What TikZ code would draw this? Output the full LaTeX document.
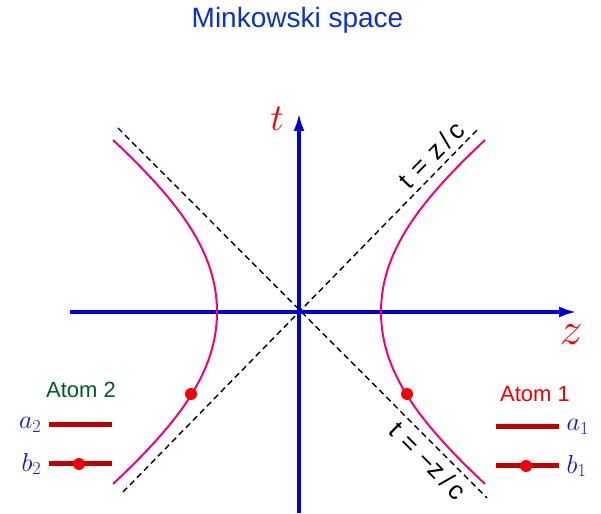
\RequirePackage{fix-cm}
\documentclass[tikz,border=0pt]{standalone}
\usepackage[no-math]{fontspec}
\setmainfont{Liberation Sans}
\usepackage{xcolor}
\definecolor{mink-title}{RGB}{10, 50, 200}
\definecolor{mink-axis}{RGB}{0, 0, 205}
\definecolor{mink-red}{RGB}{245, 0, 0}
\definecolor{mink-pink}{RGB}{240, 0, 130}
\definecolor{mink-level}{RGB}{190, 0, 0}
\definecolor{mink-green}{RGB}{0, 90, 40}
\definecolor{mink-label}{RGB}{20, 20, 210}
\usepackage{tikz}
\usetikzlibrary{positioning,arrows.meta}
\tikzset{
  % --- AXES ---
  axis/.style={
    draw=mink-axis,
    line width=3.5pt,
    -{Latex[length=18pt,width=11pt]}
  },
  axis-label/.style={
    text=mink-red,
    font=\fontsize{38}{42}\selectfont
  },
  % --- LIGHT CONE ---
  lightcone/.style={
    draw=black,
    line width=1.4pt,
    dash pattern=on 6pt off 4pt
  },
  cone-label/.style={
    font=\fontsize{26}{28}\selectfont,
    inner sep=5pt
  },
  % --- WORLD LINES ---
  worldline/.style={
    draw=mink-pink,
    line width=2pt
  },
  event/.style={
    circle,
    fill=mink-red,
    inner sep=0pt,
    minimum size=12pt
  },
  % --- ATOMS ---
  level/.style={
    fill=mink-level,
    inner sep=0pt,
    minimum width=63pt,
    minimum height=5pt
  },
  level-label/.style={
    text=mink-label,
    font=\fontsize{26}{28}\selectfont
  },
  atom-title/.style={
    font=\fontsize{22}{24}\selectfont
  },
}

\begin{document}
\begin{tikzpicture}[x=1pt, y=1pt]
  \useasboundingbox (0,0) rectangle (601,513);

  % --- title
  \node[text=mink-title, font=\fontsize{28}{32}\selectfont] (title) at (297.5, 493) {Minkowski space};

  % --- light cone
  \coordinate (cone1-s) at (123, 21);
  \coordinate (cone1-e) at (478, 384);
  \coordinate (cone2-s) at (118, 385);
  \coordinate (cone2-e) at (487, 15);
  \draw[lightcone] (cone1-s) -- (cone1-e)
    node[cone-label, pos=0.9, sloped, above] {t\,\,=\,\,z\,/\,c};
  \draw[lightcone] (cone2-s) -- (cone2-e)
    node[cone-label, pos=0.87, sloped, below] {t\,\,=\,\,−z\,/\,c};

  % --- axes
  \coordinate (z-start) at (70, 201);
  \coordinate (z-end)   at (577, 201);
  \coordinate (t-start) at (299, 0);
  \coordinate (t-end)   at (299, 400);
  \draw[axis] (z-start) -- (z-end);
  \draw[axis] (t-start) -- (t-end);
  \node[axis-label] (t-label) at (277, 394) {$t$};
  \node[axis-label, font=\fontsize{46}{50}\selectfont] (z-label) at (571, 178) {$z$};

  % --- hyperbolae
  \draw[worldline] (485,29) .. controls (419,91) and (381,141) .. (381,201)
    .. controls (381,261) and (419,311) .. (485,373);
  \draw[worldline] (113,29) .. controls (179,91) and (217,141) .. (217,201)
    .. controls (217,261) and (179,311) .. (113,373);
  \node[event] (event1) at (407, 119) {};
  \node[event] (event2) at (191, 119) {};

  % --- atom 2
  \node[atom-title, text=mink-green] (atom2) at (81, 123) {Atom 2};
  \node[level] (a2) at (80.5, 88) {};
  \node[level] (b2) at (80.5, 49) {};
  \node[event] (b2-dot) at (79, 49) {};
  \node[level-label, left=4pt of a2] (a2-label) {$a_2$};
  \node[level-label, left=4pt of b2] (b2-label) {$b_2$};

  % --- atom 1
  \node[atom-title, text=mink-red] (atom1) at (535, 119) {Atom 1};
  \node[level] (a1) at (527.5, 86) {};
  \node[level] (b1) at (527.5, 47) {};
  \node[event] (b1-dot) at (526, 47) {};
  \node[level-label, right=4pt of a1] (a1-label) {$a_1$};
  \node[level-label, right=4pt of b1] (b1-label) {$b_1$};

\end{tikzpicture}
\end{document}
